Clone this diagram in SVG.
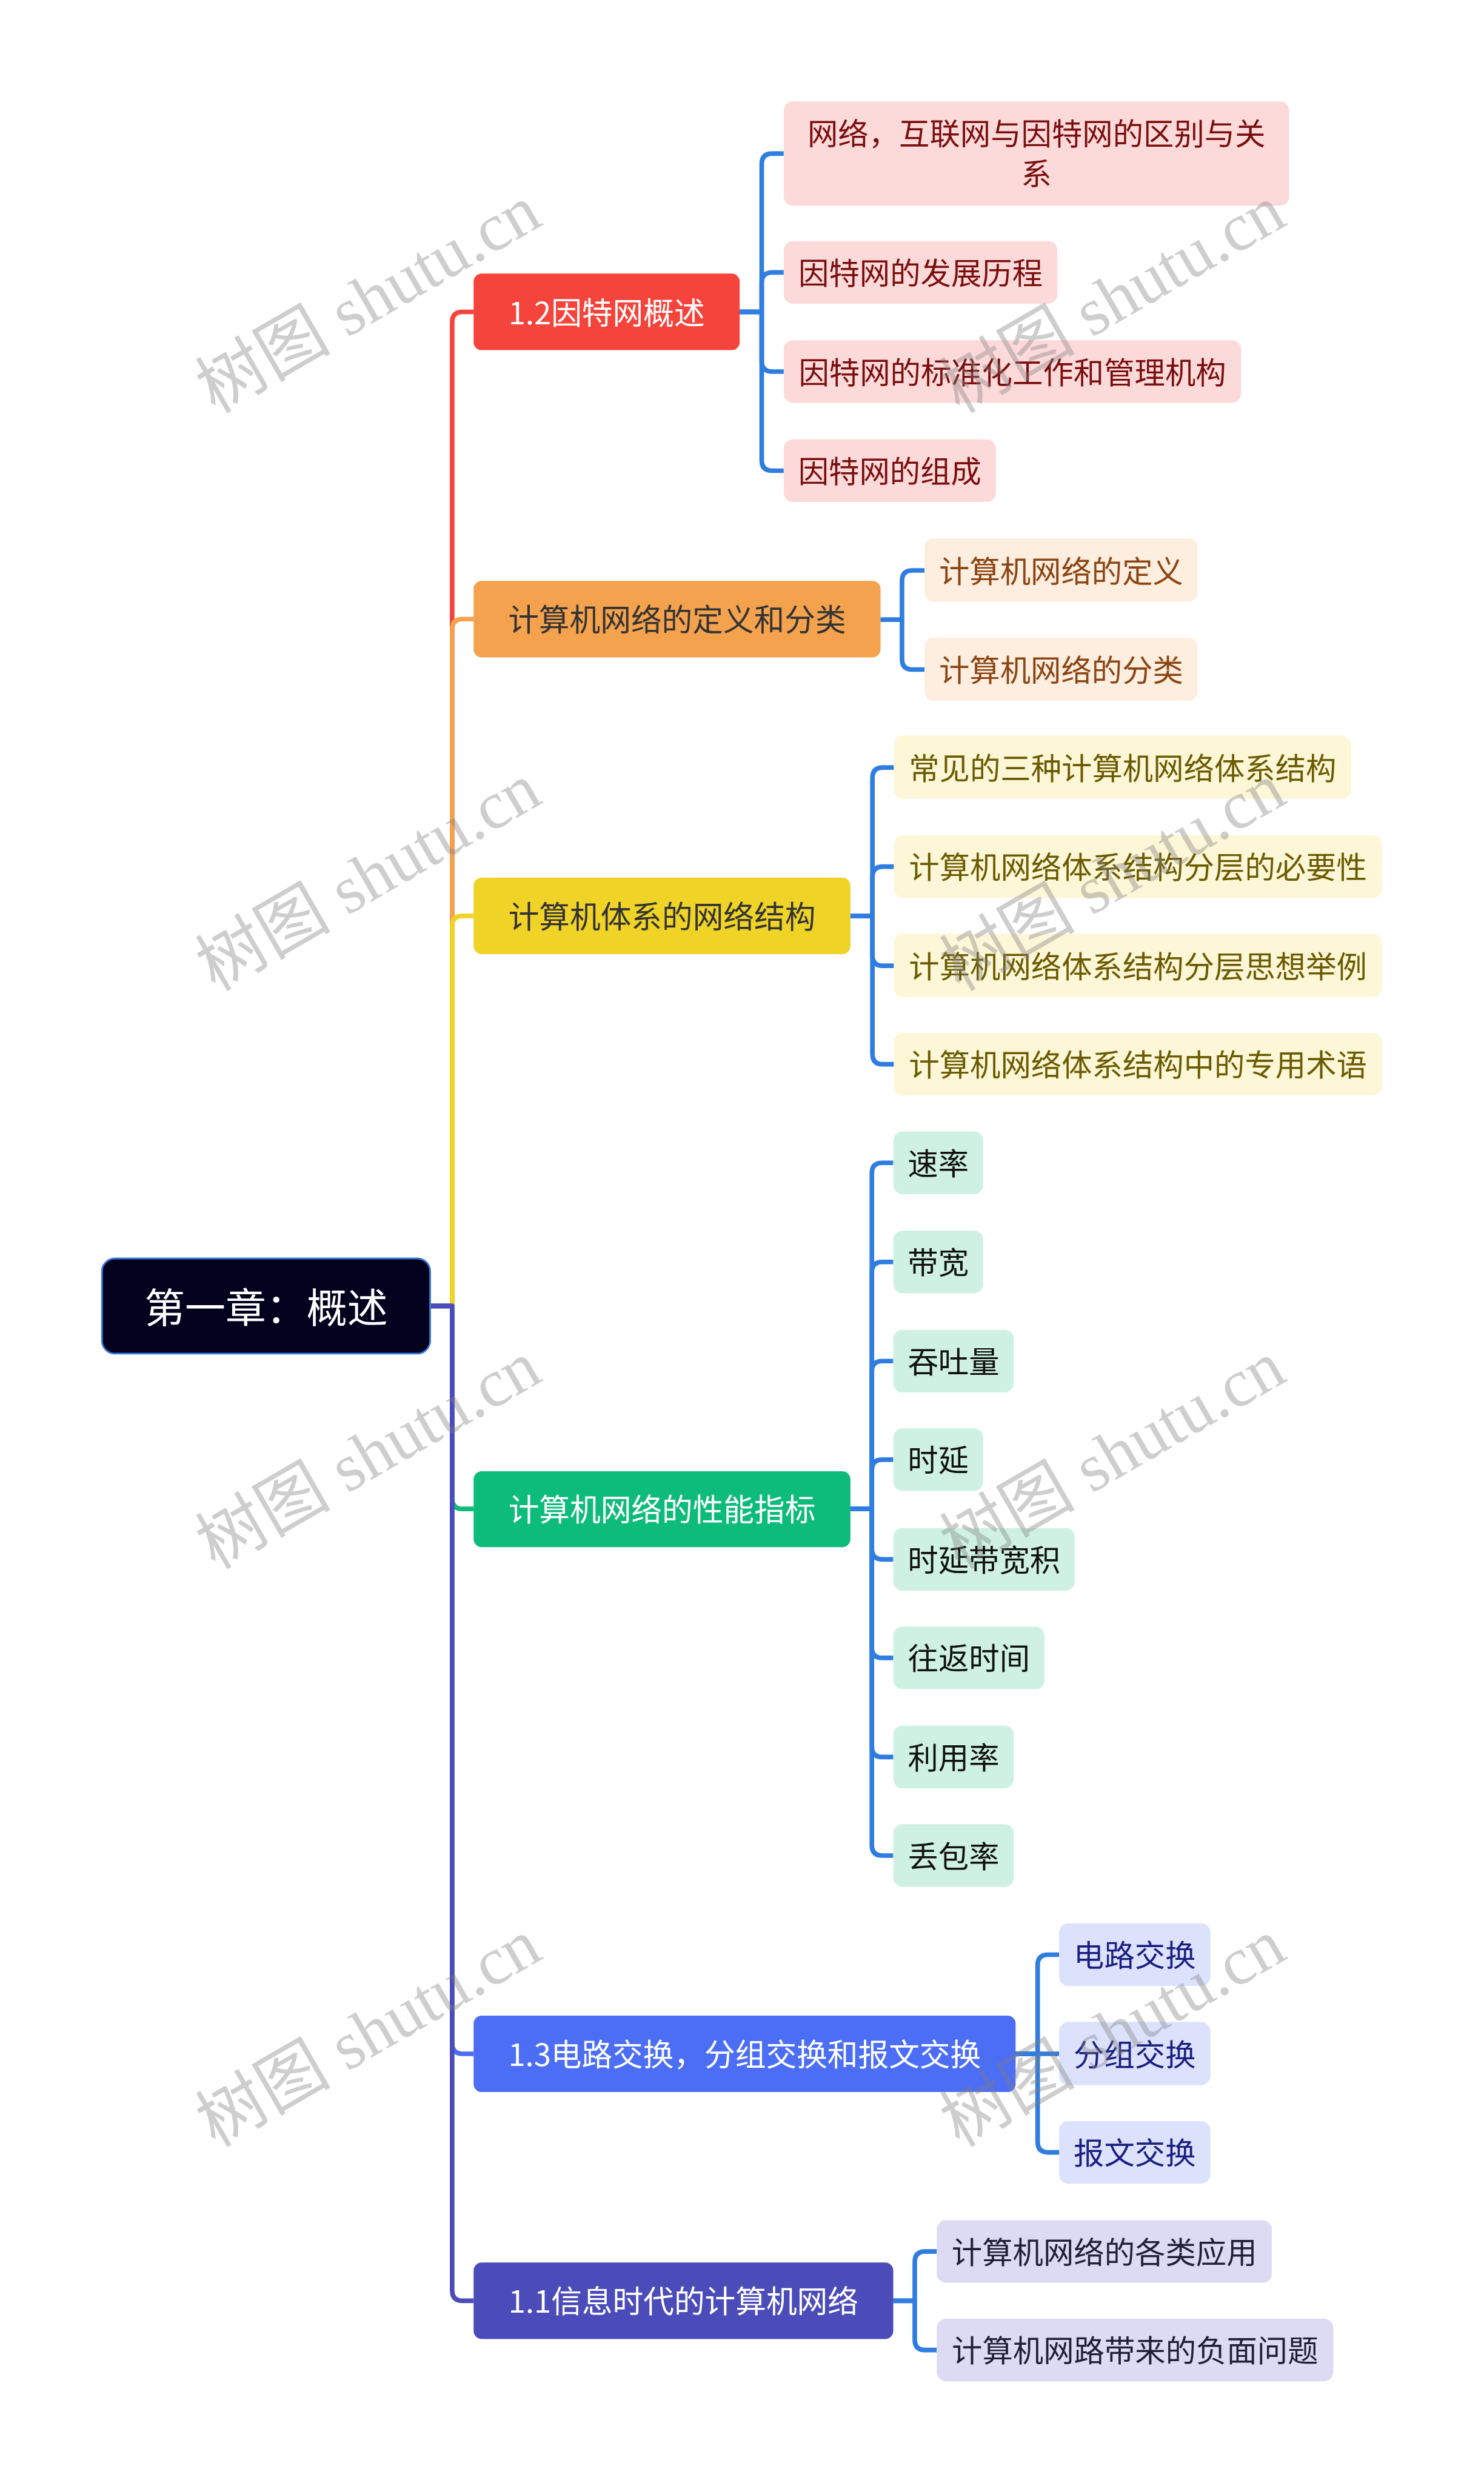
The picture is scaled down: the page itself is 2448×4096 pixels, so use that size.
<svg xmlns="http://www.w3.org/2000/svg" width="2448" height="4096" viewBox="0 0 2448 4096">
<style>
text{font-family:"Noto Sans CJK SC","Noto Sans",sans-serif;dominant-baseline:central;text-anchor:middle}
.t1{font-size:53px}
.t2{font-size:52.7px}
.cn path{fill:none;stroke-width:8;stroke-linejoin:round}
.sub{stroke:#2F7DE1}
.wm{font-family:"Liberation Serif","Noto Sans CJK SC",serif;font-size:117px;fill:#808080;opacity:0.38;text-anchor:start;dominant-baseline:alphabetic}
</style>
<rect width="2448" height="4096" fill="#ffffff"/>
<g transform="scale(0.95625)">
<g class="cn" id="connectors">
<path stroke="#F5443B" d="M742 2253H780V556Q780 538 798 538H817"/>
<path stroke="#F4A24D" d="M742 2253H780V1086Q780 1068 798 1068H817"/>
<path stroke="#F0D327" d="M742 2253H780V1598Q780 1580 798 1580H817"/>
<path stroke="#0DBB7B" d="M742 2253H780V2585Q780 2603 798 2603H817"/>
<path stroke="#4C6EF5" d="M742 2253H780V3525Q780 3543 798 3543H817"/>
<path stroke="#4B4BBA" d="M742 2253H780V3951Q780 3969 798 3969H817"/>
<path class="sub" d="M1276 538H1314V283Q1314 265 1332 265H1352"/>
<path class="sub" d="M1276 538H1314V488Q1314 470 1332 470H1352"/>
<path class="sub" d="M1276 538H1314V623Q1314 641 1332 641H1352"/>
<path class="sub" d="M1276 538H1314V794Q1314 812 1332 812H1352"/>
<path class="sub" d="M1519 1069H1556V1002Q1556 984 1574 984H1595"/>
<path class="sub" d="M1519 1069H1556V1137Q1556 1155 1574 1155H1595"/>
<path class="sub" d="M1467 1580H1505V1342Q1505 1324 1523 1324H1542"/>
<path class="sub" d="M1467 1580H1505V1513Q1505 1495 1523 1495H1542"/>
<path class="sub" d="M1467 1580H1505V1648Q1505 1666 1523 1666H1542"/>
<path class="sub" d="M1467 1580H1505V1818Q1505 1836 1523 1836H1542"/>
<path class="sub" d="M1467 2603H1504V2024Q1504 2006 1522 2006H1541"/>
<path class="sub" d="M1467 2603H1504V2195Q1504 2177 1522 2177H1541"/>
<path class="sub" d="M1467 2603H1504V2366Q1504 2348 1522 2348H1541"/>
<path class="sub" d="M1467 2603H1504V2536Q1504 2518 1522 2518H1541"/>
<path class="sub" d="M1467 2603H1504V2672Q1504 2690 1522 2690H1541"/>
<path class="sub" d="M1467 2603H1504V2842Q1504 2860 1522 2860H1541"/>
<path class="sub" d="M1467 2603H1504V3013Q1504 3031 1522 3031H1541"/>
<path class="sub" d="M1467 2603H1504V3183Q1504 3201 1522 3201H1541"/>
<path class="sub" d="M1752 3543H1790V3390Q1790 3372 1808 3372H1827"/>
<path class="sub" d="M1752 3543H1827"/>
<path class="sub" d="M1752 3543H1790V3695Q1790 3713 1808 3713H1827"/>
<path class="sub" d="M1541 3969H1578V3902Q1578 3884 1596 3884H1616"/>
<path class="sub" d="M1541 3969H1578V4036Q1578 4054 1596 4054H1616"/>
</g>

<g id="root"><rect x="176" y="2171" width="566" height="164" rx="22" fill="#02021F" stroke="#3A78D8" stroke-width="3"/><text x="459" y="2251" font-size="70" fill="#ffffff">第一章：概述</text></g>

<g id="n12"><rect x="817" y="472" width="459" height="132" rx="14" fill="#F5443B"/><text class="t1" x="1046.5" y="536" fill="#ffffff">1.2因特网概述</text></g>
<g id="n12a"><rect x="1352" y="175" width="872" height="180" rx="16" fill="#FDDADA"/><text class="t2" x="1788" y="227" fill="#7A0E0E">网络，互联网与因特网的区别与关</text><text class="t2" x="1788" y="296" fill="#7A0E0E">系</text></g>
<g id="n12b"><rect x="1352" y="416" width="472" height="108" rx="16" fill="#FDDADA"/><text class="t2" x="1588" y="468" fill="#7A0E0E">因特网的发展历程</text></g>
<g id="n12c"><rect x="1352" y="587" width="789" height="108" rx="16" fill="#FDDADA"/><text class="t2" x="1746.5" y="639" fill="#7A0E0E">因特网的标准化工作和管理机构</text></g>
<g id="n12d"><rect x="1352" y="758" width="366" height="108" rx="16" fill="#FDDADA"/><text class="t2" x="1535" y="810" fill="#7A0E0E">因特网的组成</text></g>

<g id="nor"><rect x="817" y="1002" width="702" height="132" rx="14" fill="#F4A24D"/><text class="t1" x="1168" y="1066" fill="#333333">计算机网络的定义和分类</text></g>
<g id="nora"><rect x="1595" y="929" width="471" height="109" rx="16" fill="#FDEEDF"/><text class="t2" x="1830.5" y="982" fill="#8B4513">计算机网络的定义</text></g>
<g id="norb"><rect x="1595" y="1100" width="471" height="109" rx="16" fill="#FDEEDF"/><text class="t2" x="1830.5" y="1153" fill="#8B4513">计算机网络的分类</text></g>

<g id="nye"><rect x="817" y="1514" width="650" height="132" rx="14" fill="#F0D327"/><text class="t1" x="1142" y="1578" fill="#333333">计算机体系的网络结构</text></g>
<g id="nyea"><rect x="1542" y="1269" width="789" height="109" rx="16" fill="#FDF6D7"/><text class="t2" x="1936.5" y="1322" fill="#6B5B00">常见的三种计算机网络体系结构</text></g>
<g id="nyeb"><rect x="1542" y="1441" width="842" height="108" rx="16" fill="#FDF6D7"/><text class="t2" x="1963" y="1493" fill="#6B5B00">计算机网络体系结构分层的必要性</text></g>
<g id="nyec"><rect x="1542" y="1611" width="842" height="109" rx="16" fill="#FDF6D7"/><text class="t2" x="1963" y="1664" fill="#6B5B00">计算机网络体系结构分层思想举例</text></g>
<g id="nyed"><rect x="1542" y="1782" width="842" height="108" rx="16" fill="#FDF6D7"/><text class="t2" x="1963" y="1834" fill="#6B5B00">计算机网络体系结构中的专用术语</text></g>

<g id="ngr"><rect x="817" y="2538" width="650" height="131" rx="14" fill="#0DBB7B"/><text class="t1" x="1142" y="2601" fill="#ffffff">计算机网络的性能指标</text></g>
<g id="ngr1"><rect x="1541" y="1952" width="155" height="108" rx="16" fill="#CEF1E3"/><text class="t2" x="1618.5" y="2004" fill="#111111">速率</text></g>
<g id="ngr2"><rect x="1541" y="2123" width="155" height="108" rx="16" fill="#CEF1E3"/><text class="t2" x="1618.5" y="2175" fill="#111111">带宽</text></g>
<g id="ngr3"><rect x="1541" y="2294" width="208" height="108" rx="16" fill="#CEF1E3"/><text class="t2" x="1645" y="2346" fill="#111111">吞吐量</text></g>
<g id="ngr4"><rect x="1541" y="2464" width="155" height="108" rx="16" fill="#CEF1E3"/><text class="t2" x="1618.5" y="2516" fill="#111111">时延</text></g>
<g id="ngr5"><rect x="1541" y="2636" width="313" height="108" rx="16" fill="#CEF1E3"/><text class="t2" x="1697.5" y="2688" fill="#111111">时延带宽积</text></g>
<g id="ngr6"><rect x="1541" y="2806" width="261" height="108" rx="16" fill="#CEF1E3"/><text class="t2" x="1671.5" y="2858" fill="#111111">往返时间</text></g>
<g id="ngr7"><rect x="1541" y="2977" width="208" height="108" rx="16" fill="#CEF1E3"/><text class="t2" x="1645" y="3029" fill="#111111">利用率</text></g>
<g id="ngr8"><rect x="1541" y="3147" width="208" height="108" rx="16" fill="#CEF1E3"/><text class="t2" x="1645" y="3199" fill="#111111">丢包率</text></g>

<g id="n13"><rect x="817" y="3477" width="935" height="132" rx="14" fill="#4C6EF5"/><text class="t1" x="1284.5" y="3541" fill="#ffffff">1.3电路交换，分组交换和报文交换</text></g>
<g id="n13a"><rect x="1827" y="3318" width="261" height="108" rx="16" fill="#DCE2FB"/><text class="t2" x="1957.5" y="3370" fill="#1A1F80">电路交换</text></g>
<g id="n13b"><rect x="1827" y="3488" width="261" height="109" rx="16" fill="#DCE2FB"/><text class="t2" x="1957.5" y="3541" fill="#1A1F80">分组交换</text></g>
<g id="n13c"><rect x="1827" y="3659" width="261" height="108" rx="16" fill="#DCE2FB"/><text class="t2" x="1957.5" y="3711" fill="#1A1F80">报文交换</text></g>

<g id="n11"><rect x="817" y="3903" width="724" height="132" rx="14" fill="#4B4BBA"/><text class="t1" x="1179" y="3967" fill="#ffffff">1.1信息时代的计算机网络</text></g>
<g id="n11a"><rect x="1616" y="3830" width="578" height="108" rx="16" fill="#DDDBF3"/><text class="t2" x="1905" y="3882" fill="#1F1F3A">计算机网络的各类应用</text></g>
<g id="n11b"><rect x="1616" y="4000" width="684" height="108" rx="16" fill="#DDDBF3"/><text class="t2" x="1958" y="4052" fill="#1F1F3A">计算机网路带来的负面问题</text></g>

<g id="watermarks">
<text class="wm" transform="translate(642 514) rotate(-30)" x="-335" y="38">树图 shutu.cn</text>
<text class="wm" transform="translate(1926 514) rotate(-30)" x="-335" y="38">树图 shutu.cn</text>
<text class="wm" transform="translate(642 1511) rotate(-30)" x="-335" y="38">树图 shutu.cn</text>
<text class="wm" transform="translate(1926 1511) rotate(-30)" x="-335" y="38">树图 shutu.cn</text>
<text class="wm" transform="translate(642 2508) rotate(-30)" x="-335" y="38">树图 shutu.cn</text>
<text class="wm" transform="translate(1926 2508) rotate(-30)" x="-335" y="38">树图 shutu.cn</text>
<text class="wm" transform="translate(642 3505) rotate(-30)" x="-335" y="38">树图 shutu.cn</text>
<text class="wm" transform="translate(1926 3505) rotate(-30)" x="-335" y="38">树图 shutu.cn</text>
</g>
</g>
</svg>
